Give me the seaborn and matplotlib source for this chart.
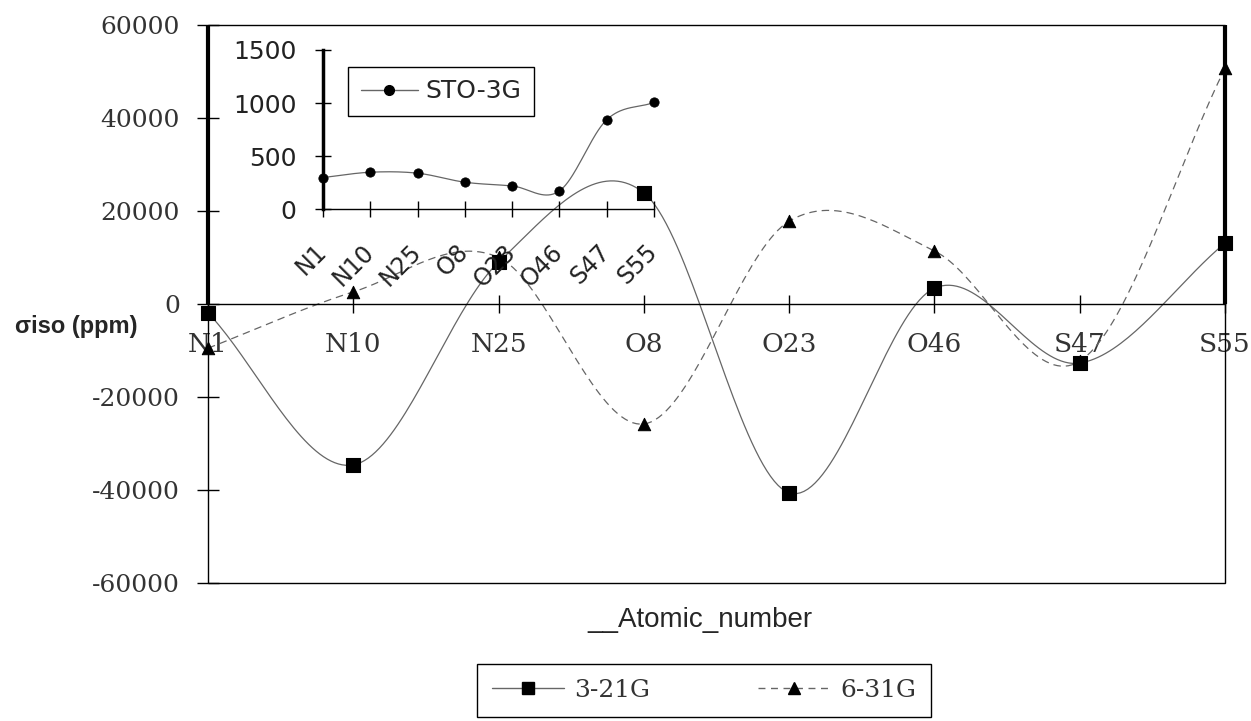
import numpy as np
import pandas as pd
import matplotlib
matplotlib.use("Agg")
import matplotlib.pyplot as plt
from matplotlib.lines import Line2D
from matplotlib.patches import Rectangle
from matplotlib.font_manager import FontProperties
import seaborn as sns

# data
atoms = ["N1", "N10", "N25", "O8", "O23", "O46", "S47", "S55"]
basis_321g = [-1900, -34600, 9000, 23900, -40600, 3400, -12700, 13100]
basis_631g = [-9500, 2600, 10000, -25800, 17800, 11400, -12300, 50700]
basis_sto3g = [299, 349, 340, 255, 220, 173, 843, 1006]

main_yticks = [-60000, -40000, -20000, 0, 20000, 40000, 60000]
inset_yticks = [0, 500, 1000, 1500]

sns.set_style("white")
plt.rcParams["font.family"] = ["DejaVu Sans"]


def smooth(xv, yv, n=40):
    # excel-like smoothed line (catmull-rom as bezier segments)
    x = np.asarray(xv, float)
    y = np.asarray(yv, float)
    px = np.concatenate([[2 * x[0] - x[1]], x, [2 * x[-1] - x[-2]]])
    py = np.concatenate([[2 * y[0] - y[1]], y, [2 * y[-1] - y[-2]]])
    t = np.linspace(0, 1, n)[:, None]
    out = []
    for i in range(len(x) - 1):
        p0 = np.array([px[i], py[i]])
        p1 = np.array([px[i + 1], py[i + 1]])
        p2 = np.array([px[i + 2], py[i + 2]])
        p3 = np.array([px[i + 3], py[i + 3]])
        c1 = p1 + (p2 - p0) / 6
        c2 = p2 - (p3 - p1) / 6
        seg = ((1 - t) ** 3) * p1 + 3 * ((1 - t) ** 2) * t * c1 + 3 * (1 - t) * t ** 2 * c2 + t ** 3 * p2
        out.append(seg if i == 0 else seg[1:])
    out = np.vstack(out)
    return out[:, 0], out[:, 1]


pos = np.arange(len(atoms))
df = pd.DataFrame({"pos": pos, "atom": atoms, "g321": basis_321g,
                   "g631": basis_631g, "sto": basis_sto3g})

fig = plt.figure(figsize=(12.51, 7.21), dpi=100)
ax = fig.add_axes([0.16627, 0.19140, 0.81295, 0.77393])

# main curves
sx, sy = smooth(df["pos"], df["g321"])
ax.plot(sx, sy, color="#666", lw=0.9, zorder=2)
dx, dy = smooth(df["pos"], df["g631"])
ax.plot(dx, dy, color="#666", lw=0.9, ls=(0, (6, 4)), zorder=2)
sns.scatterplot(data=df, x="pos", y="g321", marker="s", s=95, color="k",
                edgecolor="k", ax=ax, zorder=4, clip_on=False)
sns.scatterplot(data=df, x="pos", y="g631", marker="^", s=80, color="k",
                edgecolor="k", ax=ax, zorder=4, clip_on=False)

ax.set_xlim(0, 7)
ax.set_ylim(-60000, 60000)
ax.set_xlabel("")
ax.set_ylabel("")
for s in ["top", "right", "left"]:
    ax.spines[s].set_visible(False)
ax.spines["bottom"].set_position(("data", 0))
ax.spines["bottom"].set_linewidth(1)
ax.spines["bottom"].set_color("k")
ax.tick_params(axis="x", direction="inout", length=13, width=1, pad=14,
               color="k", bottom=True, labelsize=19, labelcolor="#333")
ax.tick_params(axis="y", direction="inout", length=16.5, width=1, pad=12,
               color="k", left=True, labelsize=18, labelcolor="#333")
ax.set_xticks(pos)
ax.set_xticklabels(atoms)
ax.set_yticks(main_yticks)
ax.set_yticklabels([str(v) for v in main_yticks])
for lbl in ax.get_xticklabels() + ax.get_yticklabels():
    lbl.set_family("DejaVu Serif")
ax.add_patch(Rectangle((0, 0), 1, 1, transform=ax.transAxes, fill=False,
                       lw=1, ec="k", clip_on=False, zorder=1))
ax.plot([0, 0], [0.5, 1], transform=ax.transAxes, color="k", lw=3,
        clip_on=False, solid_capstyle="butt")
ax.plot([1, 1], [0.5, 1], transform=ax.transAxes, color="k", lw=3,
        clip_on=False, solid_capstyle="butt")

# inset with STO-3G
axi = fig.add_axes([0.2582, 0.7097, 0.2646, 0.221], facecolor="none")
ix, iy = smooth(df["pos"], df["sto"])
axi.plot(ix, iy, color="#666", lw=0.9, zorder=2)
sns.scatterplot(data=df, x="pos", y="sto", marker="o", s=45, color="k",
                edgecolor="k", ax=axi, zorder=4, clip_on=False)
axi.set_xlim(0, 7)
axi.set_ylim(0, 1500)
axi.set_xlabel("")
axi.set_ylabel("")
axi.spines["top"].set_visible(False)
axi.spines["right"].set_visible(False)
axi.spines["left"].set_linewidth(2.5)
axi.spines["bottom"].set_linewidth(1)
axi.spines["left"].set_color("k")
axi.spines["bottom"].set_color("k")
axi.tick_params(axis="x", direction="inout", length=12, width=1, pad=22,
                color="k", bottom=True, labelsize=17, labelcolor="#222")
axi.tick_params(axis="y", direction="inout", length=12, width=1, pad=13,
                color="k", left=True, labelsize=18, labelcolor="#222")
axi.set_xticks(pos)
axi.set_xticklabels(atoms)
axi.set_yticks(inset_yticks)
axi.set_yticklabels([str(v) for v in inset_yticks])
for lbl in axi.get_xticklabels():
    lbl.set_rotation(45)
    lbl.set_ha("right")
    lbl.set_va("center")
    lbl.set_rotation_mode("anchor")

sto_handle = Line2D([], [], color="#666", lw=1, marker="o", markersize=7,
                    markerfacecolor="k", markeredgecolor="k")
leg_in = fig.legend([sto_handle], ["STO-3G"], loc="upper left",
                    bbox_to_anchor=(348 / 1251, 1 - 67 / 721),
                    bbox_transform=fig.transFigure, borderaxespad=0,
                    frameon=True, fancybox=False, edgecolor="k", framealpha=1,
                    handlelength=2.3, handletextpad=0.3, borderpad=0.5,
                    prop=FontProperties(family="DejaVu Sans", size=18))
leg_in.get_frame().set_linewidth(1)

# labels
fig.text(15 / 1251, 1 - 327 / 721, "σiso (ppm)", ha="left", va="center",
         family="Liberation Sans", fontweight="bold", fontsize=17)
fig.text(700 / 1251, 1 - 620 / 721, "__Atomic_number", ha="center",
         va="center", family="Liberation Sans", fontsize=20)

h321 = Line2D([], [], color="#666", lw=1, marker="s", markersize=9,
              markerfacecolor="k", markeredgecolor="k")
h631 = Line2D([], [], color="#666", lw=1, ls=(0, (5, 4)), marker="^",
              markersize=9, markerfacecolor="k", markeredgecolor="k")
leg = fig.legend([h321, h631], ["3-21G", "6-31G"], loc="upper center",
                 bbox_to_anchor=(704 / 1251, 1 - 664 / 721),
                 bbox_transform=fig.transFigure, borderaxespad=0, ncol=2,
                 frameon=True, fancybox=False, edgecolor="k", framealpha=1,
                 handlelength=2.9, columnspacing=4.3, handletextpad=0.4,
                 borderpad=0.6, labelcolor="#333",
                 prop=FontProperties(family="DejaVu Serif", size=18))
leg.get_frame().set_linewidth(1)

fig.savefig("out.png", dpi=100)
